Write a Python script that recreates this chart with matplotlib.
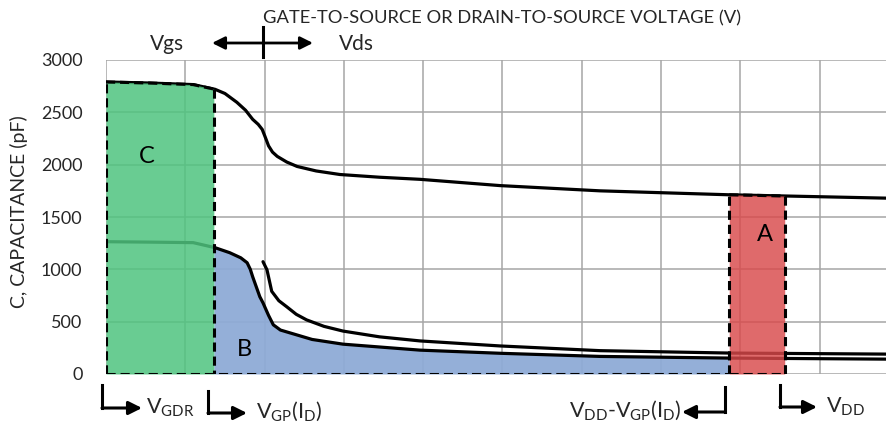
import numpy as np
import matplotlib
matplotlib.use("Agg")
import matplotlib.pyplot as plt
from matplotlib.lines import Line2D

plt.rcParams['font.family'] = ['Lato', 'DejaVu Sans']
plt.rcParams['mathtext.default'] = 'regular'

# ---- data (x in grid units of voltage axis, y in pF) ----
ciss_x = [0.0, 0.55, 1.10, 1.375, 1.50, 1.65, 1.76, 1.85, 1.92, 1.97, 2.01, 2.05, 2.10, 2.16, 2.28, 2.41, 2.65, 2.95, 3.45, 3.96, 4.97, 6.23, 7.87, 9.85]
ciss_y = [2790, 2780, 2765, 2720, 2680, 2596, 2520, 2433, 2385, 2337, 2260, 2180, 2120, 2079, 2025, 1983, 1940, 1906, 1880, 1860, 1800, 1750, 1712, 1680]

crss_x = [0.0, 0.55, 1.10, 1.375, 1.56, 1.70, 1.78, 1.82, 1.85, 1.94, 1.98, 2.05, 2.11, 2.20, 2.32, 2.60, 2.99, 3.96, 4.97, 6.23, 7.87, 9.85]
crss_y = [1264, 1260, 1255, 1207, 1159, 1110, 1063, 1000, 929, 738, 680, 560, 470, 420, 393, 330, 285, 228, 198, 168, 152, 142]

coss_x = [1.98, 2.03, 2.09, 2.18, 2.28, 2.40, 2.53, 2.75, 2.99, 3.45, 3.96, 4.97, 6.23, 7.87, 9.85]
coss_y = [1073, 996, 790, 700, 642, 570, 517, 455, 410, 355, 316, 268, 223, 200, 190]

region_edges = [0.0, 1.36, 7.86, 8.56]   # V=0, VGDR, VDD-VGP(ID), VDD
yticks = [0, 500, 1000, 1500, 2000, 2500, 3000]
xgrid = list(range(0, 10))

W, H = 887, 429
fig = plt.figure(figsize=(W / 100, H / 100), dpi=100)
ax = fig.add_axes([106 / W, (H - 374) / H, (W - 106) / W, (374 - 60) / H])
ax.set_xlim(0, 9.85)
ax.set_ylim(0, 3000)

# grid
for xv in xgrid:
    ax.axvline(xv, color='#a6a6a6', lw=1.1, zorder=1)
for yv in yticks:
    ax.axhline(yv, color='#a6a6a6', lw=1.1, zorder=1)
for s in ax.spines.values():
    s.set_visible(False)
ax.set_xticks([])
ax.set_yticks(yticks)
ax.set_yticklabels([str(v) for v in yticks], fontsize=13, color='#262626')
ax.tick_params(axis='y', length=0, pad=17)

e0, e1, e2, e3 = region_edges
cx = np.array(ciss_x); cy = np.array(ciss_y)
rx = np.array(crss_x); ry = np.array(crss_y)

# blue region B (under curves)
mask = (rx > e1) & (rx < e2)
bx = np.concatenate([[e1], rx[mask], [e2]])
by = np.concatenate([[np.interp(e1, rx, ry)], ry[mask], [np.interp(e2, rx, ry)]])
ax.fill_between(bx, 0, by, color='#8eabd6', alpha=0.95, lw=0, zorder=2)

# curves
lw_c = 2.3
ax.plot(ciss_x, ciss_y, color='black', lw=lw_c, zorder=3, solid_capstyle='round', solid_joinstyle='round')
ax.plot(crss_x, crss_y, color='black', lw=lw_c, zorder=3, solid_capstyle='round', solid_joinstyle='round')
ax.plot(coss_x, coss_y, color='black', lw=lw_c, zorder=3, solid_capstyle='round', solid_joinstyle='round')

# green region C (over curves, translucent)
mask = cx < e1
gx = np.concatenate([cx[mask], [e1]])
gy = np.concatenate([cy[mask], [np.interp(e1, cx, cy)]])
ax.fill_between(gx, 0, gy, color='#4fc47f', alpha=0.85, lw=0, zorder=4)

# red region A
mask = (cx > e2) & (cx < e3)
ax_x = np.concatenate([[e2], cx[mask], [e3]])
ax_y = np.concatenate([[np.interp(e2, cx, cy)], cy[mask], [np.interp(e3, cx, cy)]])
ax.fill_between(ax_x, 0, ax_y, color='#d9494a', alpha=0.82, lw=0, zorder=4)

# dashed outlines
dash = dict(color='black', lw=2.2, ls=(0, (3.0, 1.6)), zorder=5)
ax.plot([e0, e0], [0, gy[0]], **dash)
ax.plot(gx, gy, **dash)
ax.plot([e1, e1], [gy[-1], 0], **dash)
ax.plot([e0, e2], [0, 0], **dash)
ax.plot([e2, e2], [0, ax_y[0]], **dash)
ax.plot(ax_x, ax_y, **dash)
ax.plot([e3, e3], [ax_y[-1], 0], **dash)
ax.plot([e2, e3], [0, 0], **dash)

# region labels
ax.text(0.52, 2079, 'C', fontsize=17, ha='center', va='center', color='black', zorder=6)
ax.text(1.74, 230, 'B', fontsize=17, ha='center', va='center', color='black', zorder=6)
ax.text(8.31, 1332, 'A', fontsize=17, ha='center', va='center', color='black', zorder=6)

# y label
fig.text(19 / W, 1 - 212 / H, 'C, CAPACITANCE (pF)', rotation=90, ha='center', va='center',
         fontsize=14, color='#262626')

def fp(x, y):
    return (x, H - y)

# title
fig.text(502 / W, 1 - 18 / H, 'GATE-TO-SOURCE OR DRAIN-TO-SOURCE VOLTAGE (V)', ha='center',
         va='center', fontsize=13.2, color='#262626')
fig.text(167 / W, 1 - 44 / H, 'Vgs', ha='center', va='center', fontsize=15, color='#262626')
fig.text(356 / W, 1 - 44 / H, 'Vds', ha='center', va='center', fontsize=15, color='#262626')

ax.annotate('', xy=fp(313, 43), xytext=fp(212, 43), xycoords='figure pixels', textcoords='figure pixels',
            arrowprops=dict(arrowstyle='<|-|>', color='black', lw=2, mutation_scale=19, shrinkA=0, shrinkB=0))
fig.add_artist(Line2D([263 / W, 263 / W], [1 - 27 / H, 1 - 57 / H], color='black', lw=2.2))

def elbow(xv, ytop, ybot, xtip):
    fig.add_artist(Line2D([xv / W, xv / W], [1 - ytop / H, 1 - ybot / H], color='black', lw=2.2,
                          solid_capstyle='projecting'))
    ax.annotate('', xy=fp(xtip, ybot), xytext=fp(xv, ybot), xycoords='figure pixels',
                textcoords='figure pixels',
                arrowprops=dict(arrowstyle='-|>', color='black', lw=2.2, mutation_scale=20,
                                shrinkA=0, shrinkB=0))

elbow(102, 385, 408, 142)
elbow(208, 391, 413, 247)
elbow(725, 387, 412, 682)
elbow(780, 385, 407, 817)

tk = dict(fontsize=15.5, va='center', color='#262626')
fig.text(146 / W, 1 - 408 / H, r'V$_{GDR}$', ha='left', **tk)
fig.text(256 / W, 1 - 411 / H, r'V$_{GP}$(I$_D$)', ha='left', **tk)
fig.text(681 / W, 1 - 410 / H, r'V$_{DD}$-V$_{GP}$(I$_D$)', ha='right', **tk)
fig.text(826 / W, 1 - 407 / H, r'V$_{DD}$', ha='left', **tk)

fig.savefig('out.png', dpi=100)
